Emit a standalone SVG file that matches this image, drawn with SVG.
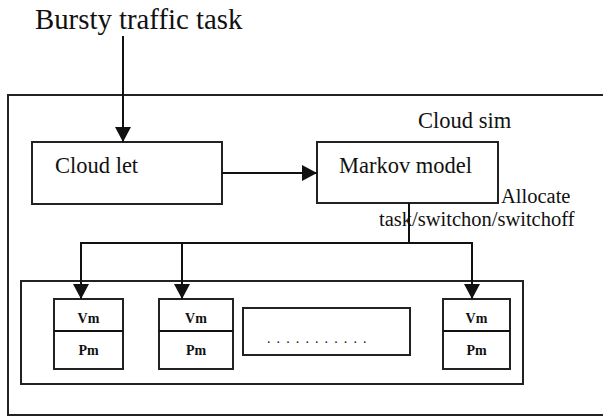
<svg xmlns="http://www.w3.org/2000/svg" width="603" height="417" viewBox="0 0 603 417" font-family="'Liberation Serif', 'DejaVu Serif', serif">
  <style>
    .box { fill: #ffffff; stroke: #222222; stroke-width: 2; }
    .line { fill: none; stroke: #111111; stroke-width: 2; }
    .t { font-family: 'Liberation Serif', 'DejaVu Serif', serif; fill: #111111; }
    .big { font-size: 28.8px; }
    .mid { font-size: 22.5px; }
    .lab { font-size: 20.5px; }
    .vm { font-size: 14px; font-weight: bold; text-anchor: middle; }
  </style>
  <defs>
    <marker id="arrow" viewBox="0 0 10 10" refX="10" refY="5" markerWidth="15" markerHeight="16" markerUnits="userSpaceOnUse" orient="auto" preserveAspectRatio="none">
      <path d="M0,0 L10,5 L0,10 Z" fill="#111111"/>
    </marker>
  </defs>

  <rect width="603" height="417" fill="#ffffff"/>

  <text class="t big" x="35" y="29">Bursty traffic task</text>

  <!-- outer Cloud sim container -->
  <g id="cloudsim">
    <rect class="box" x="8" y="95" width="600" height="320"/>
    <text class="t mid" x="418" y="128">Cloud sim</text>
  </g>

  <g id="cloudlet">
    <rect class="box" x="32" y="142" width="190" height="62"/>
    <text class="t mid" x="55" y="173">Cloud let</text>
  </g>

  <g id="markov">
    <rect class="box" x="317" y="142" width="181" height="61"/>
    <text class="t mid" x="339" y="173" font-size="23">Markov model</text>
  </g>

  <text class="t lab" x="501" y="203">Allocate</text>
  <text class="t lab" x="379" y="226">task/switchon/switchoff</text>

  <!-- host pool -->
  <g id="pool">
    <rect class="box" x="21" y="281" width="502" height="103"/>
  </g>

  <g id="host1">
    <rect class="box" x="54" y="299" width="69" height="70"/>
    <line class="line" x1="54" y1="331" x2="123" y2="331"/>
    <text class="t vm" x="88.5" y="323">Vm</text>
    <text class="t vm" x="88.5" y="355">Pm</text>
  </g>

  <g id="host2">
    <rect class="box" x="159" y="299" width="74" height="70"/>
    <line class="line" x1="159" y1="331" x2="233" y2="331"/>
    <text class="t vm" x="196" y="323">Vm</text>
    <text class="t vm" x="196" y="355">Pm</text>
  </g>

  <g id="more">
    <rect class="box" x="243" y="308" width="167" height="47"/>
    <text class="t" x="267" y="343" font-size="14" letter-spacing="6.1" fill="#555577">...........</text>
  </g>

  <g id="host3">
    <rect class="box" x="443" y="299" width="67" height="70"/>
    <line class="line" x1="443" y1="331" x2="510" y2="331"/>
    <text class="t vm" x="476.5" y="323">Vm</text>
    <text class="t vm" x="476.5" y="355">Pm</text>
  </g>

  <!-- connectors -->
  <g id="connectors">
    <line class="line" x1="123" y1="36" x2="123" y2="142" marker-end="url(#arrow)"/>
    <line class="line" x1="222" y1="173" x2="317" y2="173" marker-end="url(#arrow)"/>
    <polyline class="line" points="409,203 409,243"/>
    <polyline class="line" points="81,243 472,243"/>
    <line class="line" x1="81" y1="242" x2="81" y2="299" marker-end="url(#arrow)"/>
    <line class="line" x1="182" y1="242" x2="182" y2="299" marker-end="url(#arrow)"/>
    <line class="line" x1="472" y1="242" x2="472" y2="299" marker-end="url(#arrow)"/>
  </g>
</svg>
